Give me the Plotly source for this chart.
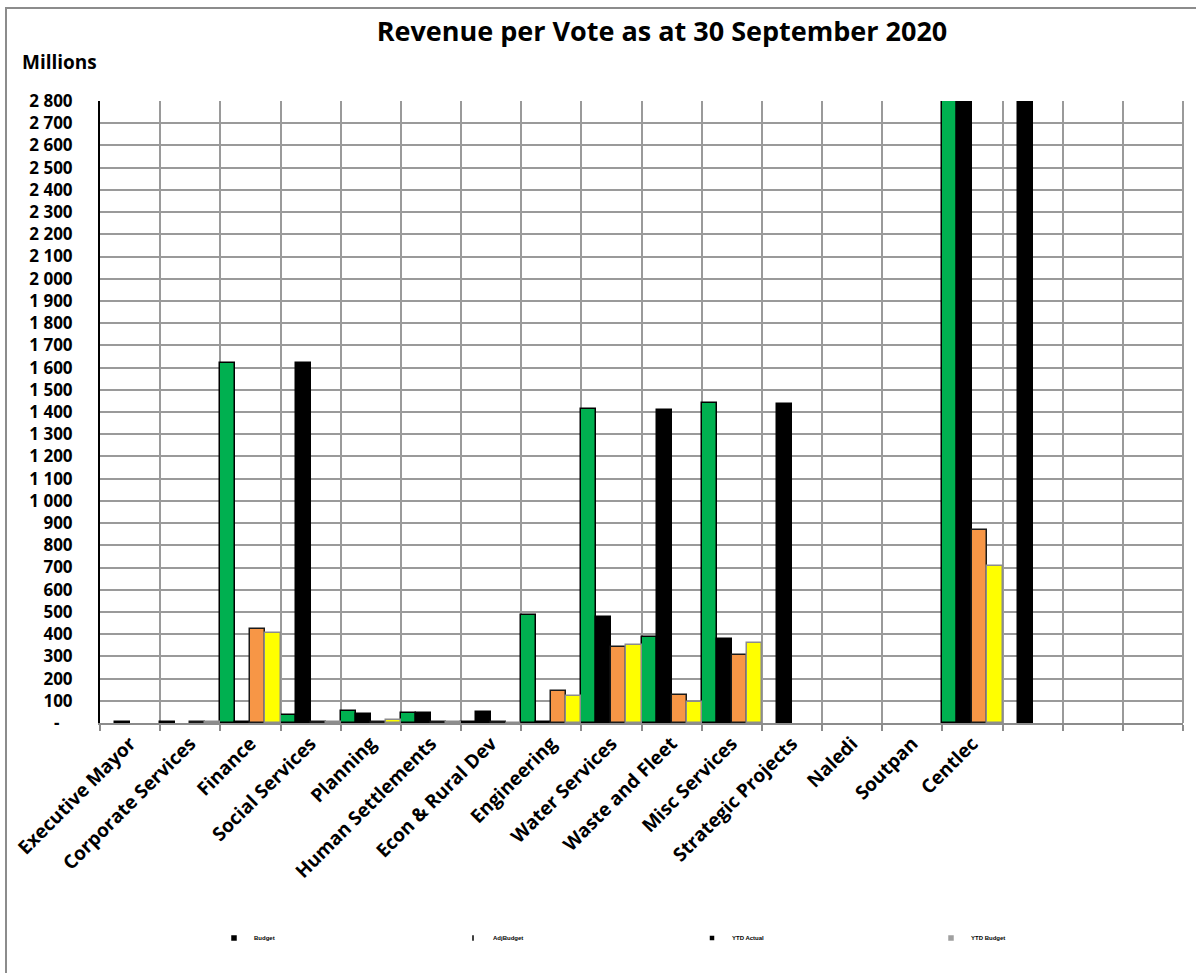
import plotly.graph_objects as go

# Votes (last three slots carry no label)
categories = [
    "Executive Mayor", "Corporate Services", "Finance", "Social Services",
    "Planning", "Human Settlements", "Econ & Rural Dev", "Engineering",
    "Water Services", "Waste and Fleet", "Misc Services", "Strategic Projects",
    "Naledi", "Soutpan", "Centlec", "", "", "",
]

# Revenue in R millions per series
budget = [0, 5, 1620, 35, 55, 46, 3, 486, 1415, 386, 1440, 0, 0, 0, 3150, 0, 0, 0]
adj_budget = [6, 0, 4, 1620, 39, 46, 48, 3, 479, 1410, 380, 1435, 0, 0, 3150, 3150, 0, 0]
ytd_actual = [0, 5, 422, 5, 4, 4, 3, 145, 341, 126, 306, 0, 0, 0, 869, 0, 0, 0]
ytd_budget = [0, 3, 404, 3, 12, 3, 2, 123, 351, 96, 359, 0, 0, 0, 707, 0, 0, 0]

series_names = ["Budget", "AdjBudget", "YTD Actual", "YTD Budget"]

y_ticks = list(range(0, 2801, 100))
y_ticktext = ["-\u00a0\u00a0\u00a0"] + [f"{v:,}".replace(",", " ") for v in y_ticks[1:]]

W, H = 1196, 973
L, R, T, B = 100, 13, 101, 250
PW, PH = W - L - R, H - T - B

x = list(range(len(categories)))

fig = go.Figure()

bar_styles = [
    ("#00B050", "#000000"),
    ("#000000", "#000000"),
    ("#F79646", "#1a1a1a"),
    ("#FFFF00", "#8c8c8c"),
]
for name, vals, (fill, edge) in zip(series_names, [budget, adj_budget, ytd_actual, ytd_budget], bar_styles):
    # empty cells are left out rather than drawn as flat outlines
    fig.add_trace(go.Bar(
        x=x, y=[v if v else None for v in vals], name=name,
        showlegend=False, legendgroup=name,
        marker=dict(color=fill, line=dict(color=edge, width=1.5)),
    ))

# small legend keys along the bottom
legend_keys = [
    ("square", "#000000", 4),
    ("line-ns", "#000000", 4),
    ("square", "#000000", 3),
    ("square", "#a0a0a0", 4),
]
for name, (sym, col, size) in zip(series_names, legend_keys):
    fig.add_trace(go.Scatter(
        x=[None], y=[None], mode="markers", name=name, legendgroup=name,
        marker=dict(symbol=sym, color=col, size=size,
                    line=dict(color=col, width=1.5)),
    ))

fig.update_layout(
    width=W, height=H,
    margin=dict(l=L, r=R, t=T, b=B, autoexpand=False),
    paper_bgcolor="white", plot_bgcolor="white",
    barmode="group", bargap=0, bargroupgap=0,
    font=dict(family="Open Sans", color="black"),
    title=dict(
        text="<b>Revenue per Vote as at 30 September 2020</b>",
        x=662 / W, xanchor="center", xref="container",
        y=1 - 32 / H, yanchor="middle", yref="container",
        font=dict(size=27, family="Open Sans", color="black"),
    ),
    legend=dict(
        orientation="h", x=(214 - L) / PW, xanchor="left",
        y=(T + PH - 938) / PH, yanchor="middle",
        entrywidth=194, entrywidthmode="pixels", itemsizing="trace",
        font=dict(size=6, family="Liberation Sans", color="black", weight="bold"),
        bgcolor="rgba(0,0,0,0)", tracegroupgap=0,
    ),
    xaxis=dict(
        range=[-0.5, len(categories) - 0.5], automargin=False,
        tickvals=x, ticktext=categories, tickangle=-45,
        ticks="", showgrid=False, zeroline=False,
        tickfont=dict(size=19, family="Open Sans", color="black", weight="bold"),
        showline=True, linecolor="#8c8c8c", linewidth=2,
        minor=dict(tick0=-0.5, dtick=1, showgrid=True, gridcolor="#9a9a9a",
                   gridwidth=2, ticks="outside", ticklen=6, tickcolor="#8c8c8c",
                   tickwidth=2),
    ),
    yaxis=dict(
        range=[0, 2800], tickvals=y_ticks, ticktext=y_ticktext, automargin=False,
        showgrid=True, gridcolor="#9a9a9a", gridwidth=2,
        zeroline=False, ticks="", ticklabelstandoff=22,
        tickfont=dict(size=17, family="Open Sans", color="black", weight="bold"),
        showline=True, linecolor="black", linewidth=2, mirror=False,
    ),
    annotations=[dict(
        text="<b>Millions</b>", xref="paper", yref="paper",
        x=(20 - L) / PW, y=(T + PH - 62) / PH, xanchor="left", yanchor="middle",
        showarrow=False, font=dict(size=19, family="Open Sans", color="black"),
    )],
    shapes=[
        # outer chart frame
        dict(type="rect", xref="paper", yref="paper",
             x0=(6 - L) / PW, x1=(W + 20 - L) / PW,
             y0=(T + PH - (H + 20)) / PH, y1=(T + PH - 8) / PH,
             line=dict(color="#8c8c8c", width=2), layer="below"),
        # right edge of the plot area
        dict(type="line", xref="paper", yref="paper", x0=1, x1=1, y0=0, y1=1,
             line=dict(color="#9a9a9a", width=2), layer="below"),
    ],
)

fig.write_html("out.html")
